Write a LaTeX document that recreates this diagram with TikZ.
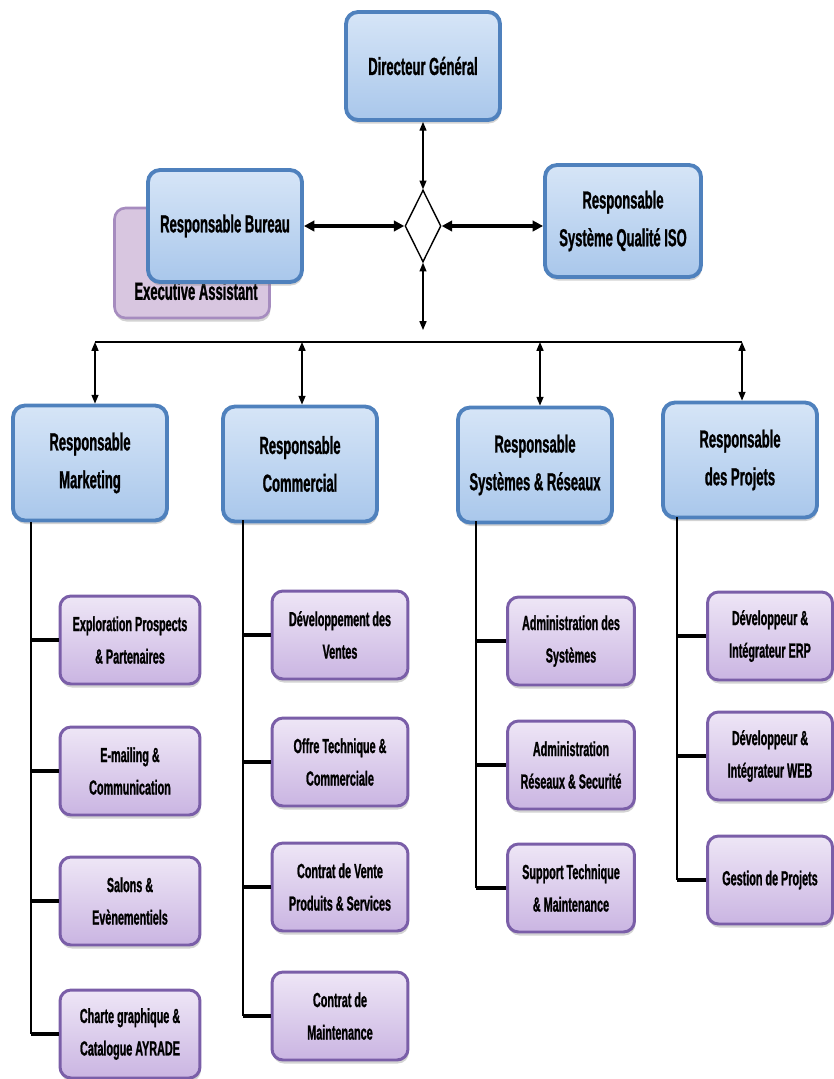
\documentclass[tikz,border=0pt]{standalone}
\usepackage{fontspec}
\setmainfont{Liberation Sans}[FakeStretch=0.53, BoldFeatures={FakeBold=1}]
\usepackage{tikz}
\usetikzlibrary{arrows.meta, positioning, calc, shapes.geometric, shadows}
\definecolor{myBlue}{HTML}{4F81BD}
\definecolor{myBlueTop}{HTML}{D6E5F7}
\definecolor{myBlueBot}{HTML}{A9C7EB}
\definecolor{myPurple}{HTML}{7A5EA8}
\definecolor{myPurpleTop}{HTML}{EEE6F6}
\definecolor{myPurpleBot}{HTML}{CAB5E2}
\definecolor{myLilac}{HTML}{D8C6E0}
\definecolor{myLilacLine}{HTML}{A68CBF}

\begin{document}
\begin{tikzpicture}[
x=0.02cm, y=-0.02cm,
head/.style={rectangle, draw=myBlue, line width=2.2pt, top color=myBlueTop, bottom color=myBlueBot, rounded corners=0.24cm, align=center, minimum width=3.08cm, minimum height=2.24cm, font=\bfseries\fontsize{14}{21.5}\selectfont, drop shadow={shadow xshift=0.5pt, shadow yshift=-2pt, opacity=0.35}},
sub/.style={rectangle, draw=myPurple, line width=1.7pt, top color=myPurpleTop, bottom color=myPurpleBot, rounded corners=0.22cm, align=center, minimum width=2.8cm, minimum height=1.76cm, font=\bfseries\fontsize{11.6}{18.5}\selectfont, drop shadow={shadow xshift=0.5pt, shadow yshift=-2pt, opacity=0.35}},
arrow/.style={{Triangle[width=4pt,length=5pt]}-{Triangle[width=4pt,length=5pt]}, line width=0.7pt, black},
bigarrow/.style={{Triangle[width=6pt,length=6pt]}-{Triangle[width=6pt,length=6pt]}, line width=2pt, black},
spine/.style={line width=0.8pt, black},
stub/.style={line width=1.8pt, black}
]
\useasboundingbox (0,0) rectangle (833,1079);

% top of the chart
\node[rectangle, draw=myLilacLine, line width=1.5pt, fill=myLilac, rounded corners=0.22cm, minimum width=3.1cm, minimum height=2.2cm, drop shadow={shadow xshift=0.5pt, shadow yshift=-2pt, opacity=0.35}] (assist) at (192,263) {};
\node[font=\bfseries\fontsize{14}{16}\selectfont] (assistT) at (196,291) {Executive Assistant};

\node[head, minimum height=2.16cm] (dg) at (423,66) {Directeur Général};
\node[head] (bureau) at (225,226) {Responsable Bureau};
\node[head, minimum width=3.12cm] (iso) at (623,221) {Responsable\\Système Qualité ISO};
\node[diamond, draw, thick, fill=white, aspect=0.5, inner sep=0pt, minimum width=0.72cm, minimum height=1.44cm] (dia) at (423,226) {};

\coordinate (bus) at (423,342);

\draw[arrow] (dg) -- (dia);
\draw[bigarrow] (dia.west) -- (dia.west -| bureau.east);
\draw[bigarrow] (dia.east) -- (dia.east -| iso.west);
\draw[arrow] (dia) -- ($(bus)+(0,-12)$);

% responsables
\node[head, minimum height=2.3cm] (mkt) at (90,463) {Responsable\\Marketing};
\node[head, minimum height=2.3cm] (com) at (300,464) {Responsable\\Commercial};
\node[head, minimum height=2.3cm] (sys) at (535,465) {Responsable\\Systèmes \& Réseaux};
\node[head, minimum height=2.3cm] (prj) at (740,460) {Responsable\\des Projets};

\draw[line width=1.6pt] ($(mkt.north |- bus)+(5,0)$) -- ($(prj.north |- bus)+(2,0)$);
\draw[arrow] ($(mkt.north |- bus)+(5,0)$) -- ($(mkt.north)+(5,0)$);
\draw[arrow] ($(com.north |- bus)+(2,0)$) -- ($(com.north)+(2,0)$);
\draw[arrow] ($(sys.north |- bus)+(5,0)$) -- ($(sys.north)+(5,0)$);
\draw[arrow] ($(prj.north |- bus)+(2,0)$) -- ($(prj.north)+(2,0)$);

% marketing
\node[sub] (mkt1) at (130,640) {Exploration Prospects\\\& Partenaires};
\node[sub] (mkt2) at (130,771) {E-mailing \&\\Communication};
\node[sub] (mkt3) at (130,901) {Salons \&\\Evènementiels};
\node[sub] (mkt4) at (130,1034) {Charte graphique \&\\Catalogue AYRADE};

% commercial
\node[sub, minimum width=2.72cm] (com1) at (340,635) {Développement des\\Ventes};
\node[sub, minimum width=2.72cm] (com2) at (340,762) {Offre Technique \&\\Commerciale};
\node[sub, minimum width=2.72cm] (com3) at (340,887) {Contrat de Vente\\Produits \& Services};
\node[sub, minimum width=2.72cm] (com4) at (340,1016) {Contrat de\\Maintenance};

% systemes
\node[sub, minimum width=2.54cm] (sys1) at (571,641) {Administration des\\Systèmes};
\node[sub, minimum width=2.54cm] (sys2) at (571,765) {Administration\\Réseaux \& Securité};
\node[sub, minimum width=2.54cm] (sys3) at (571,888) {Support Technique\\\& Maintenance};

% projets
\node[sub, minimum width=2.5cm] (prj1) at (770,636) {Développeur \&\\Intégrateur ERP};
\node[sub, minimum width=2.5cm] (prj2) at (770,756) {Développeur \&\\Intégrateur WEB};
\node[sub, minimum width=2.5cm] (prj3) at (770,880) {Gestion de Projets};

\coordinate (mktS) at (31,522);
\coordinate (comS) at (243,520);
\coordinate (sysS) at (476,521);
\coordinate (prjS) at (677,517);

\draw[spine] (mktS) -- (mktS |- mkt4.west);
\draw[spine] (comS) -- (comS |- com4.west);
\draw[spine] (sysS) -- (sysS |- sys3.west);
\draw[spine] (prjS) -- (prjS |- prj3.west);

\draw[stub] (mktS |- mkt1.west) -- (mkt1.west);
\draw[stub] (mktS |- mkt2.west) -- (mkt2.west);
\draw[stub] (mktS |- mkt3.west) -- (mkt3.west);
\draw[stub] (mktS |- mkt4.west) -- (mkt4.west);
\draw[stub] (comS |- com1.west) -- (com1.west);
\draw[stub] (comS |- com2.west) -- (com2.west);
\draw[stub] (comS |- com3.west) -- (com3.west);
\draw[stub] (comS |- com4.west) -- (com4.west);
\draw[stub] (sysS |- sys1.west) -- (sys1.west);
\draw[stub] (sysS |- sys2.west) -- (sys2.west);
\draw[stub] (sysS |- sys3.west) -- (sys3.west);
\draw[stub] (prjS |- prj1.west) -- (prj1.west);
\draw[stub] (prjS |- prj2.west) -- (prj2.west);
\draw[stub] (prjS |- prj3.west) -- (prj3.west);
\end{tikzpicture}
\end{document}
